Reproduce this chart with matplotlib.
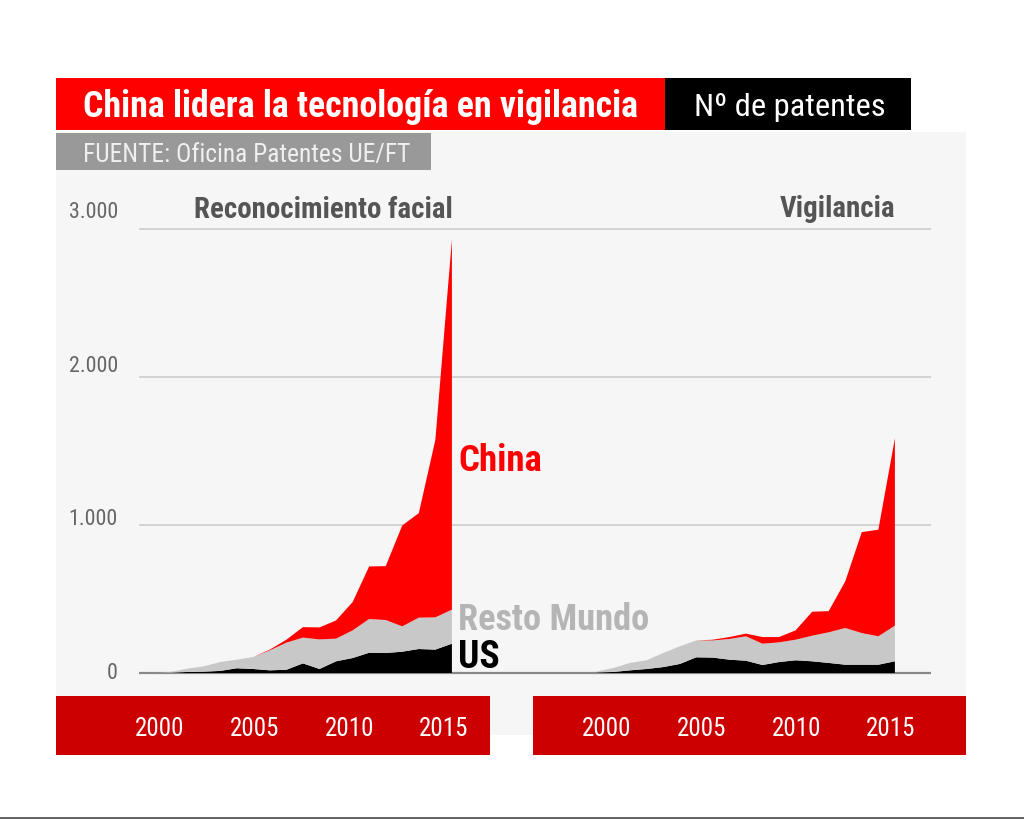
# -*- coding: utf-8 -*-
import matplotlib
matplotlib.use('Agg')
import matplotlib.pyplot as plt
from matplotlib.patches import Rectangle

W, H = 1024, 819

years = list(range(2000, 2019))
tick_years = [2000, 2005, 2010, 2015]
y_ticks = [0, 1000, 2000, 3000]
y_tick_labels = ['0', '1.000', '2.000', '3.000']

facial_us = [0, 2, 7, 9, 14, 32, 27, 18, 22, 65, 27, 79, 101, 137, 135, 144, 162, 158, 198]
facial_resto = [0, 5, 22, 36, 60, 58, 81, 135, 183, 174, 200, 153, 187, 228, 223, 171, 212, 218, 230]
facial_china = [0, 0, 0, 0, 0, 0, 0, 5, 20, 71, 81, 123, 191, 355, 364, 682, 706, 1199, 2500]

vigil_us = [4, 7, 18, 27, 40, 61, 106, 104, 90, 83, 54, 74, 86, 79, 68, 56, 56, 56, 79]
vigil_resto = [7, 27, 50, 59, 95, 119, 114, 116, 140, 165, 144, 133, 139, 173, 207, 248, 214, 192, 241]
vigil_china = [0, 0, 0, 0, 0, 0, 0, 5, 13, 18, 45, 36, 63, 162, 143, 315, 682, 720, 1266]

colors = ['#000000', '#c8c8c8', '#ff0000']
plt.rcParams['font.family'] = ['Roboto Condensed', 'Roboto', 'DejaVu Sans']


def px_axes(fig, left, top, right, bottom):
    return fig.add_axes([left / W, 1 - bottom / H, (right - left) / W, (bottom - top) / H])


def px_text(fig, x, y, s, **kw):
    kw.setdefault('va', 'center')
    return fig.text(x / W, 1 - y / H, s, **kw)


def px_rect(fig, left, top, right, bottom, color):
    fig.add_artist(Rectangle((left / W, 1 - bottom / H), (right - left) / W, (bottom - top) / H,
                             transform=fig.transFigure, facecolor=color, edgecolor='none', zorder=-1))


def panel(fig, left, right, x0, series):
    # x0 is the pixel of year 2000, 16.55 px per year
    ax = px_axes(fig, left, 224, right, 678)
    ax.patch.set_alpha(0)
    ax.stackplot(years, *series, colors=colors, linewidth=0, zorder=3)
    ax.set_xlim(2000 + (left - x0) / 16.55, 2000 + (right - x0) / 16.55)
    ax.set_ylim(-33.8, 3033.8)
    ax.set_yticks(y_ticks)
    ax.set_yticklabels([])
    ax.set_xticks(tick_years)
    ax.set_xticklabels([])
    ax.tick_params(axis='y', length=0)
    ax.tick_params(axis='x', length=0)
    ax.grid(axis='y', color='#cccccc', linewidth=1.2)
    ax.set_axisbelow(True)
    ax.axhline(0, color='#888888', linewidth=1.6, zorder=2)
    for s in ax.spines.values():
        s.set_visible(False)
    return ax


def year_band(fig, left, right, x0):
    ax = px_axes(fig, left, 696, right, 755)
    ax.set_facecolor('#cc0000')
    ax.set_xlim(2000 + (left - x0) / 18.93, 2000 + (right - x0) / 18.93)
    ax.set_ylim(0, 1)
    ax.set_yticks([])
    ax.set_xticks(tick_years)
    ax.set_xticklabels([str(y) for y in tick_years], color='white', fontsize=18)
    ax.tick_params(axis='x', direction='in', length=0, pad=-27)
    for s in ax.spines.values():
        s.set_visible(False)


fig = plt.figure(figsize=(W / 100, H / 100), dpi=100, facecolor='white')

px_rect(fig, 56, 132, 966, 735, '#f6f6f6')
px_rect(fig, 56, 78, 665, 130, '#ff0000')
px_rect(fig, 665, 78, 911, 130, '#000000')
px_rect(fig, 56, 133, 431, 170, '#999999')
px_rect(fig, 0, 817, W, H, '#666666')

px_text(fig, 83, 107, 'China lidera la tecnología en vigilancia', color='white', fontsize=25.8, fontweight='bold')
px_text(fig, 694, 108, 'Nº de patentes', color='white', fontsize=23.4)
px_text(fig, 83, 155, 'FUENTE: Oficina Patentes UE/FT', color='#f0f0f0', fontsize=18.4)

panel(fig, 139, 520, 154, [facial_us, facial_resto, facial_china])
panel(fig, 520, 931, 597, [vigil_us, vigil_resto, vigil_china])

# value labels sit on their own slightly wider scale in the original
lab = px_axes(fig, 60, 200, 125, 680)
lab.patch.set_alpha(0)
lab.set_ylim((671 - 680) * 1000 / 153.67, (671 - 200) * 1000 / 153.67)
lab.set_xticks([])
lab.yaxis.tick_right()
lab.set_yticks(y_ticks)
lab.set_yticklabels(y_tick_labels, color='#666666', fontsize=15.8, ha='right')
lab.tick_params(axis='y', length=0, pad=-5)
for s in lab.spines.values():
    s.set_visible(False)

px_text(fig, 194, 210, 'Reconocimiento facial', color='#555555', fontsize=20.9, fontweight='bold')
px_text(fig, 780, 209, 'Vigilancia', color='#555555', fontsize=20.8, fontweight='bold')

px_text(fig, 458, 461, 'China', color='#ff0000', fontsize=26.5, fontweight='bold')
px_text(fig, 458, 620, 'Resto Mundo', color='#b5b5b5', fontsize=26.2, fontweight='bold')
px_text(fig, 458, 658, 'US', color='#000000', fontsize=27, fontweight='bold')

year_band(fig, 56, 490, 160)
year_band(fig, 533, 966, 607)

fig.savefig('out.png', dpi=100, facecolor='white')
